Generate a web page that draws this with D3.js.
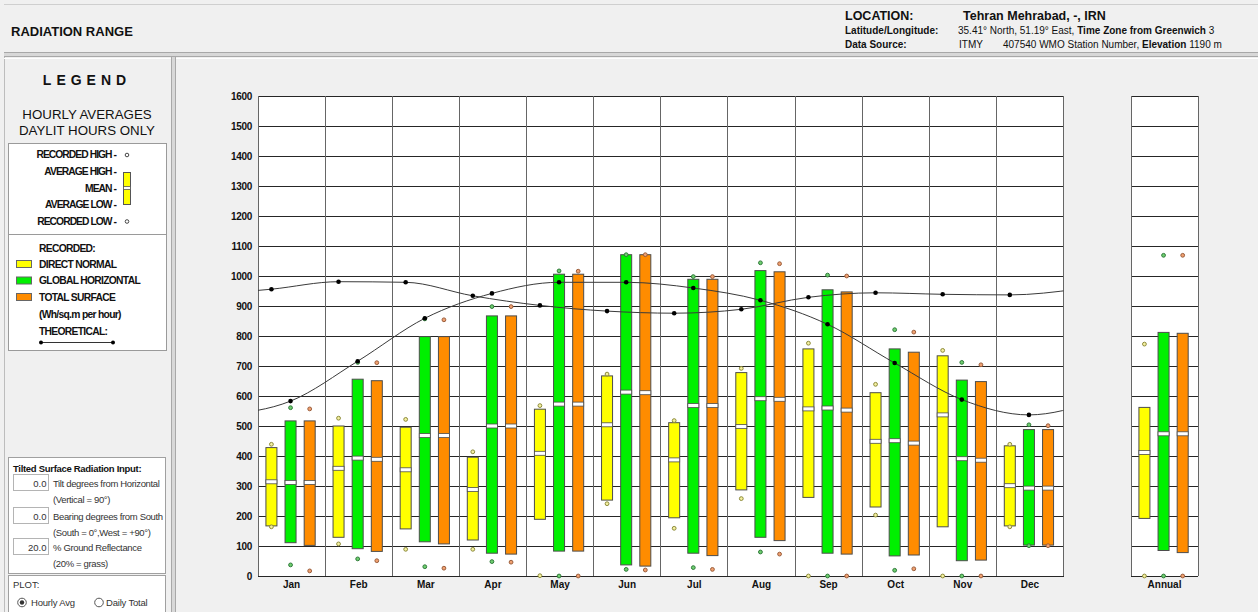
<!DOCTYPE html>
<html>
<head>
<meta charset="utf-8">
<script src="https://cdn.jsdelivr.net/npm/d3@7"></script>
<style>
  html, body { margin: 0; padding: 0; background: #f0f0f0; }
  svg { display: block; font-family: "Liberation Sans", Arial, sans-serif; }
</style>
</head>
<body>
<script>
// ---------------- DATA ----------------
const months = ["Jan","Feb","Mar","Apr","May","Jun","Jul","Aug","Sep","Oct","Nov","Dec"];
const yTicks = [0,100,200,300,400,500,600,700,800,900,1000,1100,1200,1300,1400,1500,1600];

// Direct normal (yellow)
const dnAvgHigh = [428,500,496,396,556,667,511,678,757,611,734,434];
const dnAvgLow  = [167,129,157,120,189,253,194,287,262,230,164,167];
const dnMean    = [314,359,354,288,409,504,387,498,557,449,537,301];
const dnRecHigh = [439,526,522,414,568,673,518,692,776,639,752,439];
const dnRecLow  = [164,107,89,89,1,241,159,258,0,203,0,164];

// Global horizontal (green)
const ghAvgHigh = [517,656,798,867,1006,1071,989,1018,954,757,653,488];
const ghAvgLow  = [111,91,114,76,83,37,76,129,76,67,51,103];
const ghMean    = [312,393,468,500,573,613,568,591,560,451,391,293];
const ghRecHigh = [561,712,857,898,1017,1071,998,1044,1003,821,712,504];
const ghRecLow  = [37,57,31,48,0,22,28,80,0,19,0,101];

// Total surface (orange)
const tsAvgHigh = [517,651,798,867,1006,1071,989,1014,947,746,648,488];
const tsAvgLow  = [102,82,107,73,83,33,68,118,73,70,53,103];
const tsMean    = [312,389,468,500,573,611,568,589,553,443,386,293];
const tsRecHigh = [557,711,854,898,1016,1071,998,1041,1000,813,704,501];
const tsRecLow  = [17,51,26,46,0,20,22,73,0,24,0,101];

// Annual  [direct normal, global horizontal, total surface]
const annualAvgHigh = [562,812,809];
const annualAvgLow  = [192,85,78];
const annualMean    = [412,474,474];
const annualRecHigh = [773,1069,1069];
const annualRecLow  = [0,0,0];

// Theoretical
const theoDirect = [956,981,979,934,902,883,876,889,929,944,939,937];
const theoGlobal = [583,716,859,942,979,979,960,919,839,710,588,537];

const seriesKeys = ["dn","gh","ts"];
const seriesFill   = {dn:"#ffff00", gh:"#00f000", ts:"#ff8c00"};
const seriesDotStroke = {dn:"#8c8a3a", gh:"#2f7a3a", ts:"#9a5e3c"};
const seriesDotFill   = {dn:"#f4f0a0", gh:"#6fce6f", ts:"#f0a070"};

// ---------------- SVG ----------------
const W = 1258, H = 612;
const svg = d3.select("body").append("svg").attr("width", W).attr("height", H);
svg.append("rect").attr("width", W).attr("height", H).attr("fill", "#f0f0f0");

// Header
svg.append("line").attr("x1",4).attr("x2",W).attr("y1",4.5).attr("y2",4.5).attr("stroke","#cfcfcf");
svg.append("rect").attr("x",4).attr("y",52).attr("width",W-4).attr("height",5).attr("fill","#d8d8d8");
svg.append("line").attr("x1",4).attr("x2",W).attr("y1",52.5).attr("y2",52.5).attr("stroke","#a8a8a8");
svg.append("line").attr("x1",4).attr("x2",W).attr("y1",56.5).attr("y2",56.5).attr("stroke","#a8a8a8");

svg.append("text").attr("x",11).attr("y",36).attr("font-size",13).attr("font-weight","bold")
  .attr("fill","#111").text("RADIATION RANGE");

const hdr = svg.append("g").attr("fill","#111");
hdr.append("text").attr("x",845).attr("y",20).attr("font-size",12.5).attr("font-weight","bold").text("LOCATION:");
hdr.append("text").attr("x",963).attr("y",20).attr("font-size",12.5).attr("font-weight","bold").text("Tehran Mehrabad, -, IRN");
hdr.append("text").attr("x",845).attr("y",34).attr("font-size",10).attr("font-weight","bold").text("Latitude/Longitude:");
const t2 = hdr.append("text").attr("x",958).attr("y",34).attr("font-size",10);
t2.append("tspan").text("35.41° North, 51.19° East, ");
t2.append("tspan").attr("font-weight","bold").text("Time Zone from Greenwich");
t2.append("tspan").text(" 3");
hdr.append("text").attr("x",845).attr("y",48).attr("font-size",10).attr("font-weight","bold").text("Data Source:");
const t3 = hdr.append("text").attr("x",959).attr("y",48).attr("font-size",10);
t3.append("tspan").text("ITMY");
t3.append("tspan").attr("x",1003).text("407540 WMO Station Number, ");
t3.append("tspan").attr("font-weight","bold").text("Elevation");
t3.append("tspan").text(" 1190 m");

// Panels separators
svg.append("line").attr("x1",4.5).attr("x2",4.5).attr("y1",57).attr("y2",H).attr("stroke","#bdbdbd");
svg.append("rect").attr("x",171).attr("y",57).attr("width",5).attr("height",H-57).attr("fill","#d8d8d8");
svg.append("line").attr("x1",171.5).attr("x2",171.5).attr("y1",57).attr("y2",H).attr("stroke","#a8a8a8");
svg.append("line").attr("x1",175.5).attr("x2",175.5).attr("y1",57).attr("y2",H).attr("stroke","#a8a8a8");
svg.append("line").attr("x1",4).attr("x2",171).attr("y1",58.5).attr("y2",58.5).attr("stroke","#ffffff");
svg.append("line").attr("x1",176).attr("x2",W).attr("y1",58.5).attr("y2",58.5).attr("stroke","#ffffff");

// ---------------- LEGEND ----------------
const lg = svg.append("g").attr("fill","#111");
lg.append("text").attr("x",87).attr("y",85).attr("text-anchor","middle").attr("font-size",14)
  .attr("font-weight","bold").attr("letter-spacing","5px").text("LEGEND");
lg.append("text").attr("x",87).attr("y",119).attr("text-anchor","middle").attr("font-size",13.3).text("HOURLY AVERAGES");
lg.append("text").attr("x",87).attr("y",135).attr("text-anchor","middle").attr("font-size",13.3).text("DAYLIT HOURS ONLY");

lg.append("rect").attr("x",8.5).attr("y",143.5).attr("width",158).attr("height",207)
  .attr("fill","#ffffff").attr("stroke","#9a9a9a");
lg.append("line").attr("x1",8.5).attr("x2",166.5).attr("y1",234.5).attr("y2",234.5).attr("stroke","#9a9a9a");

const legLabels = [["RECORDED HIGH -",158],["AVERAGE HIGH -",175],["MEAN -",191.5],["AVERAGE LOW -",208],["RECORDED LOW -",225]];
legLabels.forEach(d => {
  lg.append("text").attr("x",116).attr("y",d[1]).attr("text-anchor","end").attr("font-size",10.3)
    .attr("font-weight","bold").attr("letter-spacing","-0.95px").text(d[0]);
});
lg.append("circle").attr("cx",127).attr("cy",155).attr("r",1.8).attr("fill","#fff").attr("stroke","#333").attr("stroke-width",0.9);
lg.append("circle").attr("cx",127).attr("cy",221.5).attr("r",1.8).attr("fill","#fff").attr("stroke","#333").attr("stroke-width",0.9);
lg.append("rect").attr("x",123.5).attr("y",172.5).attr("width",7).attr("height",32).attr("fill","#ffff00").attr("stroke","#555");
lg.append("rect").attr("x",123.5).attr("y",186.5).attr("width",7).attr("height",3).attr("fill","#ffffff").attr("stroke","#555").attr("stroke-width",0.8);

lg.append("text").attr("x",39).attr("y",251.5).attr("font-size",10.3).attr("font-weight","bold").attr("letter-spacing","-0.7px").text("RECORDED:");
const swatches = [["DIRECT NORMAL",seriesFill.dn,260.5,267.5],["GLOBAL HORIZONTAL",seriesFill.gh,277,284],["TOTAL SURFACE",seriesFill.ts,293.5,300.5]];
swatches.forEach(d => {
  lg.append("rect").attr("x",16.5).attr("y",d[2]).attr("width",15).attr("height",7).attr("fill",d[1]).attr("stroke","#666");
  lg.append("text").attr("x",39).attr("y",d[3]).attr("font-size",10.3).attr("font-weight","bold").attr("letter-spacing","-0.7px").text(d[0]);
});
lg.append("text").attr("x",39).attr("y",317.5).attr("font-size",10.3).attr("font-weight","bold").attr("letter-spacing","-0.7px").text("(Wh/sq.m per hour)");
lg.append("text").attr("x",39).attr("y",334.5).attr("font-size",10.3).attr("font-weight","bold").attr("letter-spacing","-0.7px").text("THEORETICAL:");
lg.append("line").attr("x1",41).attr("x2",113).attr("y1",342.5).attr("y2",342.5).attr("stroke","#333");
lg.append("circle").attr("cx",41).attr("cy",342.5).attr("r",2).attr("fill","#000");
lg.append("circle").attr("cx",113).attr("cy",342.5).attr("r",2).attr("fill","#000");

// Tilted surface input box
const ti = svg.append("g").attr("fill","#111");
ti.append("rect").attr("x",8.5).attr("y",457.5).attr("width",157).attr("height",116).attr("fill","#fff").attr("stroke","#a0a0a0");
ti.append("text").attr("x",13).attr("y",471.5).attr("font-size",9.5).attr("font-weight","bold").attr("letter-spacing","-0.3px").text("Tilted Surface Radiation Input:");
const inputs = [["0.0","Tilt degrees from Horizontal","(Vertical = 90°)",474.5],
                ["0.0","Bearing degrees from South","(South = 0°,West = +90°)",507.5],
                ["20.0","% Ground Reflectance","(20% = grass)",538.5]];
inputs.forEach(d => {
  ti.append("rect").attr("x",13.5).attr("y",d[3]).attr("width",35).attr("height",16).attr("fill","#fff").attr("stroke","#b4b4b4");
  ti.append("text").attr("x",46.5).attr("y",d[3]+12.5).attr("text-anchor","end").attr("font-size",9.5).attr("fill","#333").text(d[0]);
  ti.append("text").attr("x",53).attr("y",d[3]+12.5).attr("font-size",9.5).attr("letter-spacing","-0.35px").attr("fill","#333").text(d[1]);
  ti.append("text").attr("x",53).attr("y",d[3]+28).attr("font-size",9.5).attr("letter-spacing","-0.35px").attr("fill","#333").text(d[2]);
});
ti.append("rect").attr("x",8.5).attr("y",575.5).attr("width",157).attr("height",45).attr("fill","#fff").attr("stroke","#a0a0a0");
ti.append("text").attr("x",13).attr("y",588).attr("font-size",9.5).attr("fill","#333").text("PLOT:");
ti.append("circle").attr("cx",22).attr("cy",602.5).attr("r",4.3).attr("fill","#fff").attr("stroke","#555");
ti.append("circle").attr("cx",22).attr("cy",602.5).attr("r",2.2).attr("fill","#333");
ti.append("text").attr("x",31).attr("y",606).attr("font-size",9.5).attr("letter-spacing","-0.2px").attr("fill","#333").text("Hourly Avg");
ti.append("circle").attr("cx",99).attr("cy",602.5).attr("r",4.3).attr("fill","#fff").attr("stroke","#555");
ti.append("text").attr("x",106).attr("y",606).attr("font-size",9.5).attr("letter-spacing","-0.2px").attr("fill","#333").text("Daily Total");

// ---------------- CHART ----------------
const plotL = 258, plotR = 1063.5, plotT = 96, plotB = 576;
const annL = 1131, annR = 1198;
const y = d3.scaleLinear().domain([0,1600]).range([plotB, plotT]);
const x = d3.scaleBand().domain(months).range([plotL, plotR]).paddingInner(0).paddingOuter(0);
const xa = d3.scaleBand().domain(["Annual"]).range([annL, annR]);
const bw = x.bandwidth();
const sub = d3.scalePoint().domain(seriesKeys).range([bw*0.2, bw*0.77]);
const barW = 11;

// plot backgrounds
svg.append("rect").attr("x",plotL).attr("y",plotT).attr("width",plotR-plotL).attr("height",plotB-plotT).attr("fill","#fff");
svg.append("rect").attr("x",annL).attr("y",plotT).attr("width",annR-annL).attr("height",plotB-plotT).attr("fill","#fff");

const grid = svg.append("g").attr("stroke","#262626").attr("stroke-width",1).attr("shape-rendering","crispEdges");
yTicks.forEach(v => {
  grid.append("line").attr("x1",plotL).attr("x2",plotR).attr("y1",y(v)).attr("y2",y(v));
  grid.append("line").attr("x1",annL).attr("x2",annR).attr("y1",y(v)).attr("y2",y(v));
});
const vCol = "#666666";
months.forEach(m => {
  grid.append("line").attr("x1",x(m)).attr("x2",x(m)).attr("y1",plotT).attr("y2",plotB).attr("stroke",vCol);
});
grid.append("line").attr("x1",plotR).attr("x2",plotR).attr("y1",plotT).attr("y2",plotB).attr("stroke",vCol);
grid.append("line").attr("x1",annL).attr("x2",annL).attr("y1",plotT).attr("y2",plotB).attr("stroke",vCol);
grid.append("line").attr("x1",annR).attr("x2",annR).attr("y1",plotT).attr("y2",plotB).attr("stroke",vCol);

// axes
const yAxis = svg.append("g").attr("transform",`translate(${plotL},0)`)
  .call(d3.axisLeft(y).tickValues(yTicks).tickFormat(d3.format("d")).tickSize(0).tickPadding(6));
yAxis.select(".domain").remove();
yAxis.selectAll("text").attr("font-size",10).attr("font-weight","bold").attr("fill","#111")
  .attr("font-family","Liberation Sans, Arial, sans-serif").attr("letter-spacing","-0.3px");

const xAxis = svg.append("g").attr("transform",`translate(0,${plotB})`)
  .call(d3.axisBottom(x).tickSize(0).tickPadding(5));
xAxis.select(".domain").remove();
const xAxisA = svg.append("g").attr("transform",`translate(0,${plotB})`)
  .call(d3.axisBottom(xa).tickSize(0).tickPadding(5));
xAxisA.select(".domain").remove();
[xAxis, xAxisA].forEach(a => a.selectAll("text").attr("font-size",10).attr("font-weight","bold").attr("fill","#111")
  .attr("font-family","Liberation Sans, Arial, sans-serif"));

// build records
const monthly = {
  dn: months.map((m,i)=>({m, k:"dn", hi:dnAvgHigh[i], lo:dnAvgLow[i], mean:dnMean[i], rh:dnRecHigh[i], rl:dnRecLow[i]})),
  gh: months.map((m,i)=>({m, k:"gh", hi:ghAvgHigh[i], lo:ghAvgLow[i], mean:ghMean[i], rh:ghRecHigh[i], rl:ghRecLow[i]})),
  ts: months.map((m,i)=>({m, k:"ts", hi:tsAvgHigh[i], lo:tsAvgLow[i], mean:tsMean[i], rh:tsRecHigh[i], rl:tsRecLow[i]}))
};
const annual = seriesKeys.map((k,i)=>({m:"Annual", k, hi:annualAvgHigh[i], lo:annualAvgLow[i], mean:annualMean[i], rh:annualRecHigh[i], rl:annualRecLow[i]}));

function drawBoxes(data, xs) {
  const g = svg.append("g");
  const cx = d => xs(d.m) + sub(d.k);
  g.selectAll("rect.bar").data(data).join("rect").attr("class","bar")
    .attr("x", d => cx(d) - barW/2).attr("width", barW)
    .attr("y", d => y(d.hi)).attr("height", d => y(d.lo) - y(d.hi))
    .attr("fill", d => seriesFill[d.k]).attr("stroke","#4d4d4d").attr("stroke-width",1);
  g.selectAll("rect.mean").data(data).join("rect").attr("class","mean")
    .attr("x", d => cx(d) - barW/2).attr("width", barW)
    .attr("y", d => y(d.mean) - 2).attr("height", 4)
    .attr("fill","#ffffff").attr("stroke","#4d4d4d").attr("stroke-width",0.8);
  ["rh","rl"].forEach(f => {
    g.selectAll("circle."+f).data(data).join("circle").attr("class",f)
      .attr("cx", cx).attr("cy", d => y(d[f])).attr("r", 1.9)
      .attr("fill", d => seriesDotFill[d.k]).attr("stroke", d => seriesDotStroke[d.k]).attr("stroke-width",1);
  });
}
seriesKeys.forEach(k => drawBoxes(monthly[k], x));
drawBoxes(annual, xa);

// theoretical lines (wrap-around, clipped to plot)
svg.append("clipPath").attr("id","plotclip").append("rect")
  .attr("x",plotL).attr("y",plotT).attr("width",plotR-plotL).attr("height",plotB-plotT);
function theoPts(vals, k) {
  const span = plotR - plotL;
  const pts = months.map((m,i)=>[x(m)+sub(k), y(vals[i])]);
  const first = [pts[pts.length-1][0] - span, pts[pts.length-1][1]];
  const last = [pts[0][0] + span, pts[0][1]];
  return {all:[first, ...pts, last], pts};
}
const lineGen = d3.line().curve(d3.curveMonotoneX);
[[theoDirect,"dn"],[theoGlobal,"gh"]].forEach(([vals,k]) => {
  const p = theoPts(vals,k);
  svg.append("path").attr("d", lineGen(p.all)).attr("fill","none").attr("stroke","#3a3a3a")
    .attr("stroke-width",1).attr("clip-path","url(#plotclip)");
  svg.append("g").selectAll("circle").data(p.pts).join("circle")
    .attr("cx", d=>d[0]).attr("cy", d=>d[1]).attr("r",2.3).attr("fill","#000");
});
</script>
</body>
</html>
